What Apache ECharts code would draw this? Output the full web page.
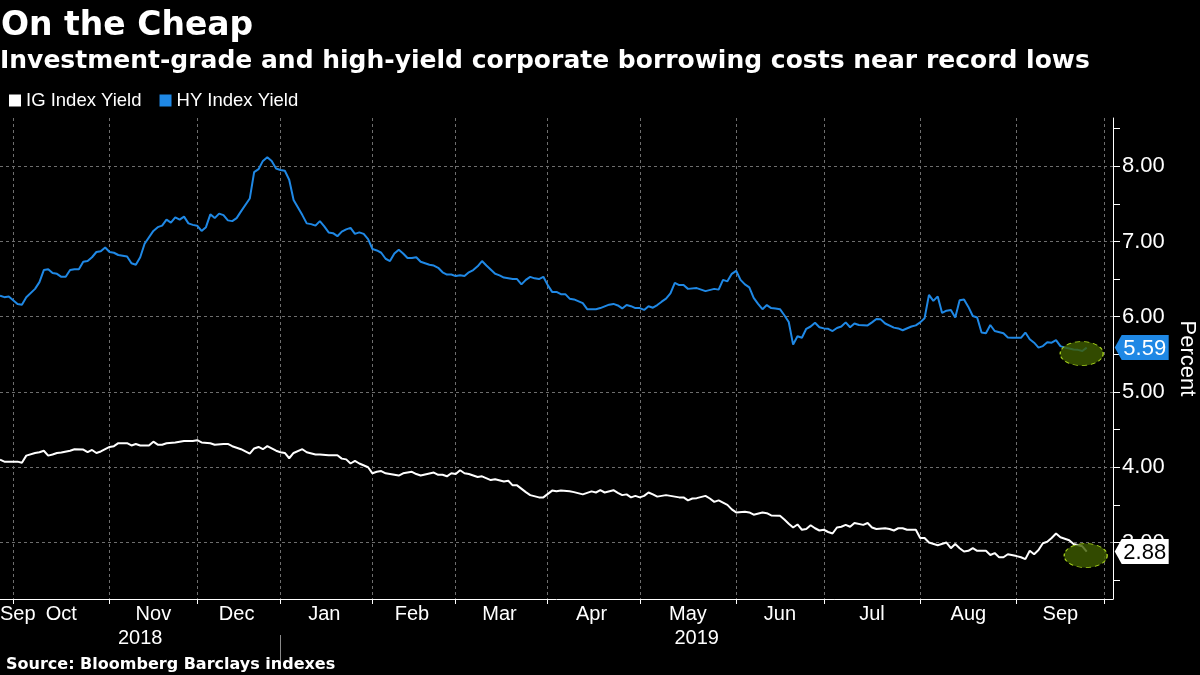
<!DOCTYPE html>
<html><head><meta charset="utf-8">
<script src="https://cdn.jsdelivr.net/npm/echarts@6/dist/echarts.min.js"></script>
<style>html,body{margin:0;padding:0;background:#000;}#c{width:1200px;height:675px;}</style>
</head><body><div id="c"></div>
<script>
// Bond-market trading days (weekends and these closures are skipped)
const marketHolidays = ['2018-10-08','2018-11-12','2018-11-22','2018-12-05','2018-12-25',
  '2019-01-01','2019-01-21','2019-02-18','2019-04-19','2019-05-27','2019-07-04','2019-09-02'];
const axisStart = '2018-09-26';
const axisEnd = '2019-10-03';
const monthNames = ['Jan','Feb','Mar','Apr','May','Jun','Jul','Aug','Sep','Oct','Nov','Dec'];
const yTickValues = [3, 4, 5, 6, 7, 8];
const yHalfTickValues = [2.5, 3.5, 4.5, 5.5, 6.5, 7.5, 8.5];

// [trading-day index, yield %]
const igYield = [[0,4.10],[1,4.075],[4,4.075],[5,4.06],[6,4.155],[8,4.19],[9,4.20],[10,4.22],[11,4.155],[12,4.17],[13,4.19],[14,4.195],[16,4.22],[17,4.24],[19,4.235],[20,4.20],[21,4.23],[22,4.19],[23,4.21],[25,4.27],[26,4.28],[27,4.32],[29,4.32],[30,4.29],[31,4.31],[32,4.29],[34,4.29],[35,4.34],[36,4.30],[37,4.30],[38,4.32],[40,4.33],[41,4.34],[42,4.35],[44,4.35],[45,4.36],[46,4.33],[48,4.32],[49,4.30],[51,4.31],[52,4.31],[53,4.28],[55,4.24],[56,4.21],[57,4.18],[58,4.25],[59,4.27],[60,4.24],[61,4.28],[62,4.25],[63,4.22],[64,4.20],[65,4.19],[66,4.12],[67,4.19],[69,4.24],[70,4.20],[72,4.17],[73,4.17],[75,4.16],[77,4.16],[78,4.115],[79,4.105],[80,4.05],[81,4.085],[82,4.05],[84,4.00],[85,3.92],[86,3.94],[87,3.95],[88,3.92],[90,3.90],[91,3.89],[92,3.92],[94,3.94],[95,3.91],[96,3.89],[99,3.93],[100,3.90],[101,3.90],[102,3.88],[103,3.92],[104,3.91],[105,3.96],[106,3.92],[107,3.91],[109,3.87],[110,3.88],[112,3.83],[113,3.84],[115,3.81],[116,3.82],[117,3.76],[118,3.76],[120,3.67],[121,3.63],[123,3.60],[124,3.60],[126,3.69],[127,3.68],[128,3.69],[130,3.68],[131,3.67],[133,3.64],[135,3.68],[136,3.665],[137,3.695],[138,3.665],[140,3.695],[141,3.66],[142,3.63],[143,3.64],[144,3.60],[145,3.62],[146,3.60],[147,3.62],[148,3.665],[149,3.64],[150,3.61],[152,3.63],[153,3.62],[155,3.60],[156,3.60],[157,3.56],[158,3.585],[159,3.59],[161,3.62],[162,3.585],[163,3.54],[164,3.56],[165,3.53],[166,3.50],[167,3.44],[168,3.40],[170,3.41],[171,3.40],[172,3.37],[174,3.40],[175,3.39],[176,3.36],[178,3.355],[179,3.305],[180,3.25],[181,3.20],[182,3.24],[183,3.17],[184,3.18],[185,3.23],[186,3.19],[187,3.16],[188,3.17],[189,3.14],[190,3.12],[191,3.20],[192,3.21],[193,3.235],[194,3.21],[195,3.26],[197,3.235],[198,3.26],[199,3.20],[200,3.18],[202,3.19],[203,3.18],[204,3.16],[205,3.19],[206,3.19],[207,3.17],[209,3.17],[210,3.06],[211,3.06],[212,3.00],[214,2.965],[216,3.00],[217,2.925],[218,2.98],[219,2.925],[220,2.88],[221,2.89],[222,2.925],[223,2.89],[225,2.89],[226,2.835],[227,2.86],[228,2.805],[229,2.805],[230,2.845],[232,2.82],[233,2.805],[234,2.78],[235,2.89],[236,2.845],[237,2.90],[238,2.99],[239,3.01],[240,3.06],[241,3.12],[242,3.07],[244,3.03],[245,2.98],[247,2.95],[248,2.88]];

const hyYield = [[0,6.28],[1,6.26],[2,6.27],[3,6.22],[4,6.17],[5,6.16],[6,6.26],[8,6.37],[9,6.46],[10,6.62],[11,6.63],[12,6.58],[13,6.57],[14,6.53],[15,6.53],[16,6.62],[17,6.63],[18,6.63],[19,6.73],[20,6.74],[21,6.79],[22,6.86],[23,6.87],[24,6.92],[25,6.86],[26,6.85],[27,6.82],[29,6.80],[30,6.71],[31,6.69],[32,6.79],[33,6.97],[35,7.14],[36,7.19],[37,7.21],[38,7.29],[39,7.25],[40,7.32],[41,7.29],[42,7.33],[43,7.24],[44,7.22],[45,7.21],[46,7.14],[47,7.19],[48,7.36],[49,7.31],[50,7.37],[51,7.35],[52,7.28],[53,7.27],[54,7.31],[55,7.40],[57,7.57],[58,7.92],[59,7.96],[60,8.07],[61,8.12],[62,8.07],[63,7.97],[64,7.95],[65,7.94],[66,7.82],[67,7.55],[68,7.45],[69,7.35],[70,7.24],[71,7.23],[72,7.21],[73,7.27],[74,7.20],[75,7.12],[76,7.11],[77,7.07],[78,7.13],[79,7.16],[80,7.18],[81,7.10],[82,7.12],[83,7.10],[84,7.03],[85,6.90],[86,6.88],[87,6.85],[88,6.77],[89,6.74],[90,6.84],[91,6.89],[92,6.84],[93,6.78],[94,6.78],[95,6.79],[96,6.73],[97,6.71],[98,6.69],[99,6.68],[100,6.65],[101,6.59],[102,6.56],[103,6.56],[104,6.54],[105,6.55],[106,6.54],[107,6.59],[108,6.62],[109,6.67],[110,6.74],[111,6.68],[113,6.57],[114,6.55],[115,6.52],[117,6.50],[118,6.50],[119,6.43],[120,6.49],[121,6.53],[122,6.51],[123,6.50],[124,6.53],[125,6.42],[126,6.33],[127,6.33],[128,6.30],[129,6.30],[130,6.24],[131,6.23],[133,6.18],[134,6.10],[136,6.10],[137,6.115],[139,6.16],[140,6.17],[141,6.15],[142,6.11],[143,6.155],[144,6.14],[145,6.115],[146,6.115],[147,6.09],[148,6.14],[149,6.12],[150,6.155],[151,6.20],[152,6.24],[153,6.31],[154,6.45],[155,6.42],[156,6.42],[157,6.37],[159,6.38],[160,6.36],[161,6.34],[163,6.37],[164,6.36],[165,6.49],[166,6.47],[167,6.57],[168,6.61],[169,6.49],[170,6.43],[171,6.39],[172,6.25],[173,6.17],[174,6.10],[175,6.155],[176,6.115],[177,6.11],[178,6.10],[179,6.02],[180,5.93],[181,5.63],[182,5.74],[183,5.72],[184,5.84],[185,5.87],[186,5.92],[187,5.86],[188,5.845],[189,5.84],[190,5.81],[191,5.85],[192,5.87],[193,5.925],[194,5.86],[195,5.91],[196,5.89],[198,5.885],[199,5.925],[200,5.97],[201,5.965],[202,5.91],[204,5.855],[205,5.845],[206,5.82],[208,5.87],[209,5.885],[210,5.925],[211,5.98],[212,6.29],[213,6.21],[214,6.27],[215,6.05],[216,6.08],[217,6.09],[218,5.99],[219,6.22],[220,6.23],[221,6.13],[222,6.01],[223,5.99],[224,5.79],[225,5.78],[226,5.89],[227,5.81],[229,5.78],[230,5.725],[231,5.72],[233,5.72],[234,5.79],[235,5.70],[236,5.655],[237,5.59],[238,5.61],[239,5.66],[240,5.655],[241,5.69],[242,5.61],[243,5.59],[245,5.565],[246,5.56],[247,5.545],[248,5.59]];

function buildTradingDays(start, end, skip) {
  const out = [];
  const d = new Date(start + 'T00:00:00Z');
  const e = new Date(end + 'T00:00:00Z');
  while (d <= e) {
    const wd = d.getUTCDay();
    const s = d.toISOString().slice(0, 10);
    if (wd !== 0 && wd !== 6 && skip.indexOf(s) < 0) out.push(s);
    d.setUTCDate(d.getUTCDate() + 1);
  }
  return out;
}
const dates = buildTradingDays(axisStart, axisEnd, marketHolidays);
const N = dates.length;

// month boundaries and label positions
const monthStarts = [];
for (let i = 1; i < N; i++) if (dates[i].slice(0, 7) !== dates[i - 1].slice(0, 7)) monthStarts.push(i);
const monthStartSet = new Set(monthStarts);
const bounds = [0].concat(monthStarts);
const monthLabelSet = new Set([0]);
for (let k = 1; k < bounds.length - 1; k++) monthLabelSet.add(Math.floor((bounds[k] + bounds[k + 1]) / 2));
// year separator and labels
let yearStart = 0;
for (let i = 1; i < N; i++) if (dates[i].slice(0, 4) !== dates[i - 1].slice(0, 4)) { yearStart = i; break; }
const yearLabelSet = new Set([Math.floor(yearStart / 2), Math.floor((yearStart + N - 1) / 2)]);

const BLUE = '#1f88e5';
const FONT = 'Liberation Sans';
const tagPath = 'path://M0,12 L7,0 L54,0 L54,24 L7,24 Z';

function endMarks(series, tagColor, textColor, ellOffset) {
  const last = series[series.length - 1];
  const c = [dates[last[0]], last[1]];
  return {
    silent: true,
    animation: false,
    data: [
      { coord: c, value: last[1], symbol: 'circle', symbolSize: [43, 24], symbolOffset: ellOffset,
        itemStyle: { color: 'rgba(62,92,0,0.8)', borderColor: '#a8d41c', borderWidth: 1, borderType: [4, 3] },
        label: { show: false } },
      { coord: c, value: last[1], symbol: tagPath, symbolSize: [54, 25], symbolOffset: [55, 0],
        itemStyle: { color: tagColor },
        label: { show: true, position: 'inside', offset: [3, 1], color: textColor, fontSize: 22, fontFamily: FONT,
          formatter: p => Number(p.value).toFixed(2) } }
    ]
  };
}

const chart = echarts.init(document.getElementById('c'));
chart.setOption({
  backgroundColor: '#000',
  animation: false,
  title: [
    { text: 'On the Cheap', left: 1, top: 10, padding: 0,
      textStyle: { color: '#fff', fontSize: 33, fontWeight: 'bold', fontFamily: 'DejaVu Sans' } },
    { text: 'Investment-grade and high-yield corporate borrowing costs near record lows', left: 0, top: 49, padding: 0,
      textStyle: { color: '#fff', fontSize: 25, fontWeight: 'bold', fontFamily: 'DejaVu Sans' } },
    { text: 'Source: Bloomberg Barclays indexes', left: 6, top: 657, padding: 0,
      textStyle: { color: '#fff', fontSize: 16, fontWeight: 'bold', fontFamily: 'DejaVu Sans' } }
  ],
  legend: {
    left: 9, top: 91, padding: 0, icon: 'rect', itemWidth: 12, itemHeight: 12, itemGap: 18,
    textStyle: { color: '#fff', fontSize: 18.5, fontFamily: FONT },
    data: ['IG Index Yield', 'HY Index Yield']
  },
  grid: { left: 0, right: 87, top: 118, bottom: 76, containLabel: false, outerBoundsMode: 'none' },
  xAxis: [
    {
      type: 'category', data: dates, boundaryGap: false,
      axisLine: { lineStyle: { color: '#fff', width: 1 } },
      axisTick: { interval: i => monthStartSet.has(i), length: 5, lineStyle: { color: '#fff' } },
      splitLine: { show: true, interval: i => monthStartSet.has(i), lineStyle: { color: '#6e6e6e', type: [3, 3] } },
      axisLabel: {
        interval: i => monthLabelSet.has(i), alignMinLabel: 'left',
        formatter: v => monthNames[+v.slice(5, 7) - 1], color: '#fff', fontSize: 20, fontFamily: FONT, margin: 5
      }
    },
    {
      type: 'category', data: dates, boundaryGap: false, position: 'bottom', offset: 64,
      axisLine: { show: false },
      axisTick: { show: true, inside: true, length: 28, interval: i => i === yearStart, lineStyle: { color: '#8a8a8a' } },
      splitLine: { show: false },
      axisLabel: {
        inside: true, interval: i => yearLabelSet.has(i),
        formatter: v => v.slice(0, 4), color: '#fff', fontSize: 20, fontFamily: FONT, margin: 15
      }
    }
  ],
  yAxis: [
    {
      type: 'value', position: 'right', min: 2.25, max: 8.64,
      axisLine: { show: true, lineStyle: { color: '#fff' } },
      axisTick: { show: true, customValues: yTickValues, length: 7, lineStyle: { color: '#fff' } },
      axisLabel: { customValues: yTickValues, formatter: v => v.toFixed(2), color: '#fff', fontSize: 22, fontFamily: FONT, margin: 9 },
      splitLine: { show: true, lineStyle: { color: '#6e6e6e', type: [3, 3] } },
      name: 'Percent', nameLocation: 'middle', nameRotate: -90, nameGap: 60,
      nameTextStyle: { color: '#fff', fontSize: 22, fontFamily: FONT }
    },
    {
      type: 'value', position: 'right', min: 2.25, max: 8.64,
      axisLine: { show: false },
      axisTick: { show: true, customValues: yHalfTickValues, length: 7, lineStyle: { color: '#fff' } },
      axisLabel: { show: false },
      splitLine: { show: false }
    }
  ],
  series: [
    {
      name: 'IG Index Yield', type: 'line', xAxisIndex: 0, yAxisIndex: 0,
      data: igYield.map(p => [dates[p[0]], p[1]]),
      showSymbol: false, symbol: 'none',
      lineStyle: { color: '#ffffff', width: 2 }, itemStyle: { color: '#ffffff' },
      markPoint: endMarks(igYield, '#ffffff', '#000000', [-1, 4])
    },
    {
      name: 'HY Index Yield', type: 'line', xAxisIndex: 0, yAxisIndex: 0,
      data: hyYield.map(p => [dates[p[0]], p[1]]),
      showSymbol: false, symbol: 'none',
      lineStyle: { color: BLUE, width: 2 }, itemStyle: { color: BLUE },
      markPoint: endMarks(hyYield, BLUE, '#ffffff', [-5, 6])
    }
  ]
});
</script></body></html>
